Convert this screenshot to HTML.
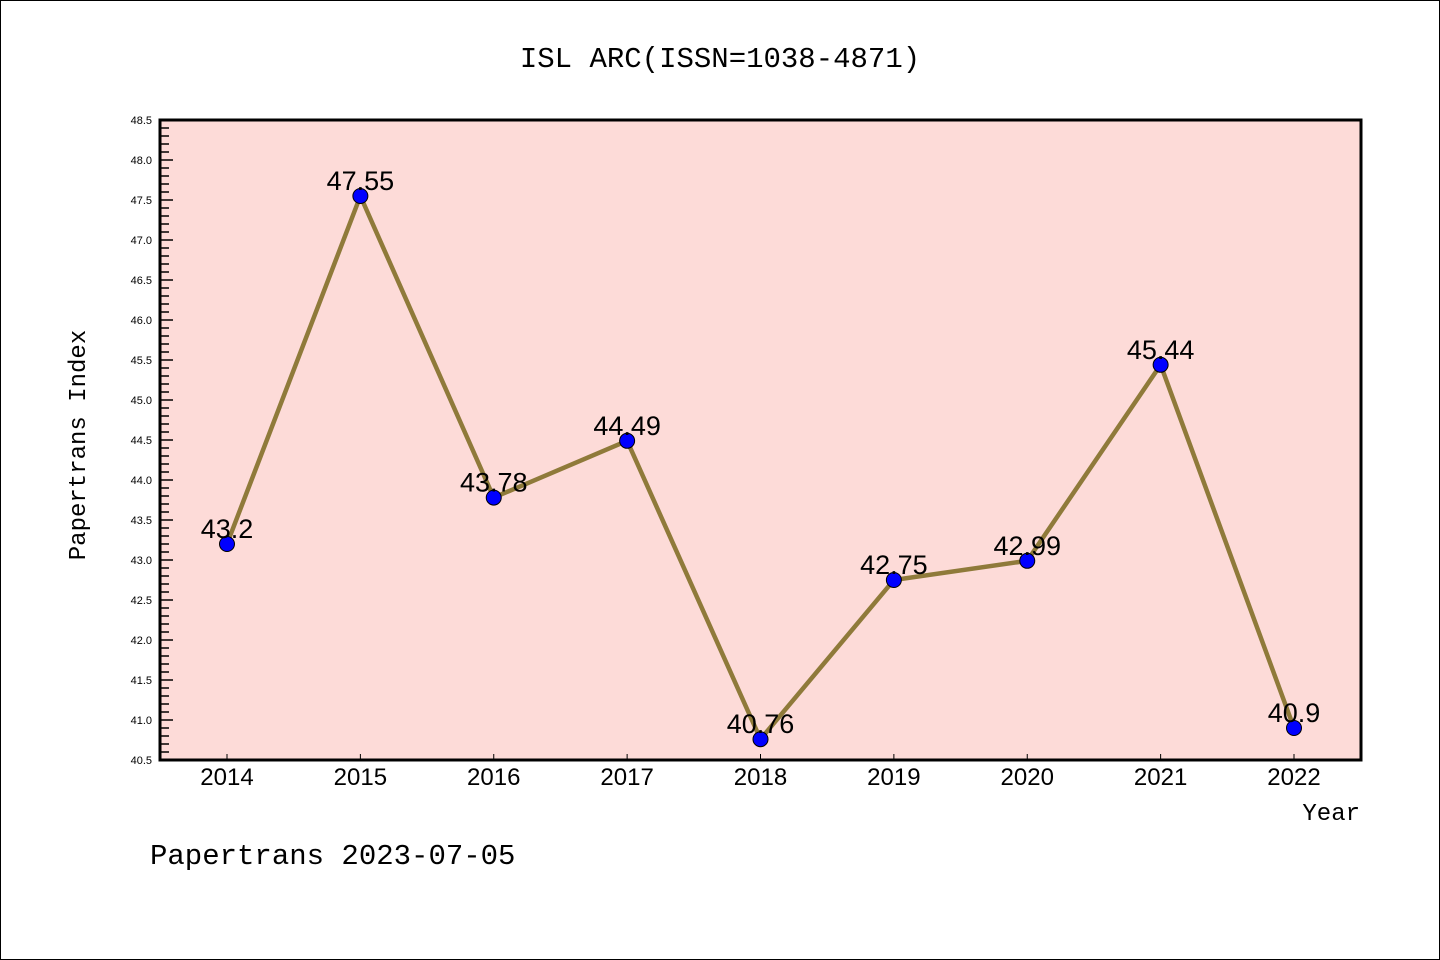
<!DOCTYPE html>
<html><head><meta charset="utf-8"><style>
body{margin:0;background:#fff}
svg{display:block;font-family:"Liberation Sans","DejaVu Sans",sans-serif}
</style></head><body>
<svg id="c" width="1440" height="960" viewBox="0 0 1440 960">
<rect x="0.5" y="0.5" width="1439" height="959" fill="#fff" stroke="#000"/>
<text x="720" y="67" text-anchor="middle" font-size="29" font-family="Liberation Mono, DejaVu Sans Mono, monospace">ISL ARC(ISSN=1038-4871)</text>
<rect x="160" y="120" width="1201" height="640" fill="#fddbd8"/>
<g id="yt"></g><g id="xt"></g><g id="series"></g>
<rect x="160" y="120" width="1201" height="640" fill="none" stroke="#000" stroke-width="3"/>
<text transform="translate(85,445) rotate(-90)" text-anchor="middle" font-size="24" font-family="Liberation Mono, DejaVu Sans Mono, monospace">Papertrans Index</text>
<text x="1360" y="820" text-anchor="end" font-size="24" font-family="Liberation Mono, DejaVu Sans Mono, monospace">Year</text>
<text x="150" y="864" font-size="29" font-family="Liberation Mono, DejaVu Sans Mono, monospace">Papertrans 2023-07-05</text>
</svg>
<script>
const years=["2014","2015","2016","2017","2018","2019","2020","2021","2022"];
const values=[43.2,47.55,43.78,44.49,40.76,42.75,42.99,45.44,40.9];
const labels=["43.2","47.55","43.78","44.49","40.76","42.75","42.99","45.44","40.9"];
const yMin=40.5,yMax=48.5;
const NS="http://www.w3.org/2000/svg";
function y(v){return 760-(v-yMin)/(yMax-yMin)*640;}
function x(i){return 227+i*(1294-227)/(years.length-1);}
function mk(t,a,p){const e=document.createElementNS(NS,t);for(const k in a)e.setAttribute(k,a[k]);p.appendChild(e);return e;}
const yt=document.getElementById('yt'),xt=document.getElementById('xt'),s=document.getElementById('series');
for(let k=0;k<=80;k++){const v=yMin+k*0.1;const major=k%5===0;
 const l=mk('line',{x1:160,x2:160+(major?13:9),y1:y(v),y2:y(v),stroke:'#000','stroke-width':1.5},yt);
 
 
 if(major){const t=mk('text',{x:152,y:y(v)+4,'text-anchor':'end','font-size':11},yt);t.textContent=v.toFixed(1);
 
 }}
years.forEach((yr,i)=>{const l=mk('line',{x1:x(i),x2:x(i),y1:760,y2:754,stroke:'#000','stroke-width':1},xt);
 
 
 const t=mk('text',{x:x(i),y:785,'text-anchor':'middle','font-size':24},xt);t.textContent=yr;
 
 });
const pl=mk('polyline',{points:values.map((v,i)=>x(i)+','+y(v)).join(' '),fill:'none',stroke:'#8f7a3a','stroke-width':4.5},s);


values.forEach((v,i)=>{const c=mk('circle',{cx:x(i),cy:y(v),r:7.5,fill:'#0000ff',stroke:'#000','stroke-width':1},s);
 
 
 const t=mk('text',{x:x(i),y:y(v)-6,'text-anchor':'middle','font-size':27},s);t.textContent=labels[i];
 
 });
</script>
</body></html>
